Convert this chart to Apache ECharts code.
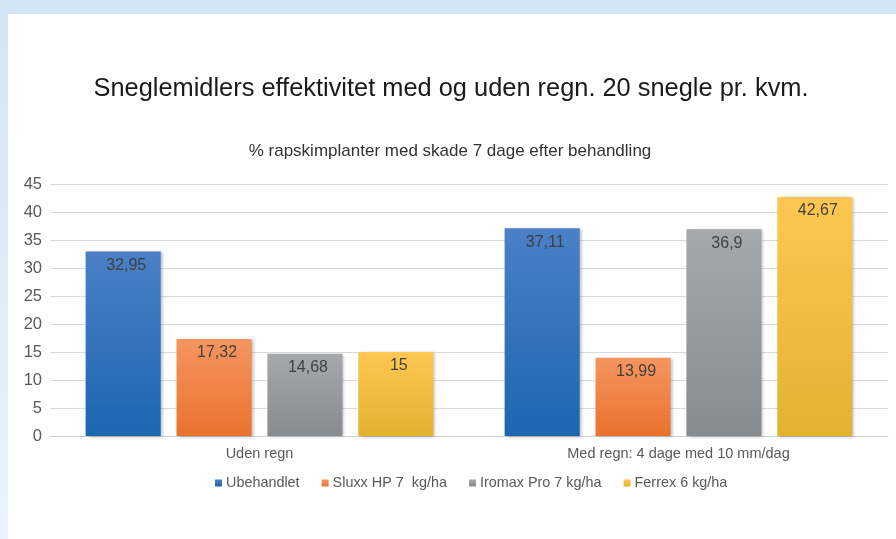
<!DOCTYPE html>
<html>
<head>
<meta charset="utf-8">
<script src="https://cdn.jsdelivr.net/npm/echarts@6/dist/echarts.min.js"></script>
<style>
  html, body { margin: 0; padding: 0; }
  body {
    width: 896px; height: 539px; overflow: hidden;
    background: linear-gradient(to bottom, #d3e4f4, #eaf3fb);
  }
  .panel {
    position: absolute; left: 8px; top: 14px; right: 0; bottom: 0;
    background: #fff;
  }
  #chart { position: absolute; left: -8px; top: -14px; width: 896px; height: 539px; }
</style>
</head>
<body>
<div class="panel"><div id="chart"></div></div>
<script>
  // kategorier og serier
  const categories = ["Uden regn", "Med regn: 4 dage med 10 mm/dag"];
  const ubehandlet = [32.95, 37.11];
  const sluxx = [17.32, 13.99];
  const iromax = [14.68, 36.9];
  const ferrex = [15, 42.67];
  const seriesNames = ["Ubehandlet", "Sluxx HP 7  kg/ha", "Iromax Pro 7 kg/ha", "Ferrex 6 kg/ha"];

  const colors = [
    ["#4a80c6", "#1c66b2"],
    ["#f6955f", "#e9722f"],
    ["#a6a9ab", "#878b8d"],
    ["#fec753", "#e3b22f"]
  ];
  const legendColors = ["#2a6db9", "#ef7d3e", "#999c9e", "#fbc02d"];

  const chart = echarts.init(document.getElementById("chart"));
  const fmt = p => String(p.value).replace(".", ",");

  const mkSeries = (name, data, i) => ({
    name: name,
    type: "bar",
    data: data,
    barGap: "21%",
    barCategoryGap: "17%",
    itemStyle: {
      color: new echarts.graphic.LinearGradient(0, 0, 0, 1, [
        { offset: 0, color: colors[i][0] },
        { offset: 1, color: colors[i][1] }
      ]),
      shadowColor: "rgba(0,0,0,0.25)",
      shadowBlur: 3,
      shadowOffsetX: 2,
      shadowOffsetY: 1
    },
    label: {
      show: true,
      position: "insideTop",
      distance: 6,
      offset: [3, 0],
      color: "#404040",
      fontSize: 16,
      fontFamily: "Liberation Sans",
      formatter: fmt
    }
  });

  const option = {
    animation: false,
    backgroundColor: "transparent",
    color: legendColors,
    title: [
      {
        text: "Sneglemidlers effektivitet med og uden regn. 20 snegle pr. kvm.",
        left: 446, top: 71, textAlign: "center",
        textStyle: { fontFamily: "Liberation Sans", fontSize: 25.4, fontWeight: "normal", color: "#1a1a1a" }
      },
      {
        text: "% rapskimplanter med skade 7 dage efter behandling",
        left: 445, top: 138, textAlign: "center",
        textStyle: { fontFamily: "Liberation Sans", fontSize: 17, fontWeight: "normal", color: "#333" }
      }
    ],
    grid: { left: 50, right: 8, top: 184, bottom: 103 },
    legend: {
      data: seriesNames,
      left: 210, top: 471,
      itemWidth: 7, itemHeight: 7, itemGap: 22,
      icon: "rect",
      textStyle: { fontFamily: "Liberation Sans", fontSize: 14.4, color: "#595959", padding: [0, 0, 0, -1] }
    },
    xAxis: {
      type: "category",
      data: categories,
      axisLine: { lineStyle: { color: "#d0d0d0", width: 1 } },
      axisTick: { show: false },
      axisLabel: { fontFamily: "Liberation Sans", fontSize: 14.5, color: "#595959", margin: 10 }
    },
    yAxis: {
      type: "value",
      min: 0, max: 45, interval: 5,
      axisLine: { show: false },
      axisTick: { show: false },
      splitLine: { lineStyle: { color: "#d9d9d9", width: 1 } },
      axisLabel: { fontFamily: "Liberation Sans", fontSize: 16.5, color: "#595959", margin: 8 }
    },
    series: [
      mkSeries(seriesNames[0], ubehandlet, 0),
      mkSeries(seriesNames[1], sluxx, 1),
      mkSeries(seriesNames[2], iromax, 2),
      mkSeries(seriesNames[3], ferrex, 3)
    ]
  };
  chart.setOption(option);
</script>
</body>
</html>
